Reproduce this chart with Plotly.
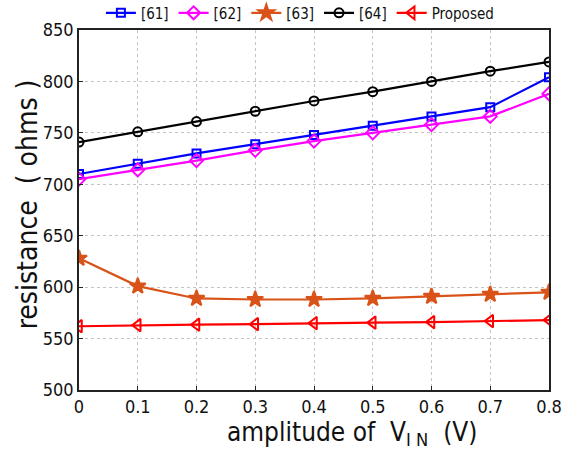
import plotly.graph_objects as go

amplitude = [0, 0.1, 0.2, 0.3, 0.4, 0.5, 0.6, 0.7, 0.8]
x_tick_labels = ["0", "0.1", "0.2", "0.3", "0.4", "0.5", "0.6", "0.7", "0.8"]
r61 = [710, 720, 730, 739, 748, 757, 766, 775, 804]
r62 = [705, 714, 723, 733, 742, 750, 758, 766, 788]
r63 = [628, 601, 589, 588, 588, 589, 591, 593, 595]
r64 = [741, 751, 761, 771, 781, 790, 800, 810, 819]
proposed = [562, 563, 563.5, 564, 565, 565.5, 566, 567, 568]

FONT = "DejaVu Sans Condensed, DejaVu Sans"

series = [
    ("[61]", r61, "#0000FF", "square-open", 8),
    ("[62]", r62, "#FF00FF", "diamond-open", 10),
    ("[63]", r63, "#D95319", "star", 12),
    ("[64]", r64, "#000000", "circle-open", 9),
    ("Proposed", proposed, "#FF0000", "triangle-left-open", 11),
]

fig = go.Figure()
for name, vals, color, symbol, size in series:
    fig.add_trace(go.Scatter(
        x=amplitude, y=vals, name=name, mode="lines+markers",
        line=dict(color=color, width=2.2),
        marker=dict(symbol=symbol, size=size, color=color,
                    line=dict(color=color, width=2)),
    ))

axis_common = dict(
    showline=True, linecolor="#222", linewidth=1.5, mirror=True,
    ticks="inside", ticklen=4, tickcolor="#222",
    showgrid=True, gridcolor="#c4c4c4", griddash="dot", gridwidth=1,
    zeroline=False, automargin=False,
    tickfont=dict(family=FONT, size=18, color="#111"),
)

fig.update_layout(
    width=562, height=450,
    margin=dict(l=79, r=13, t=30, b=60, autoexpand=False),
    plot_bgcolor="white", paper_bgcolor="white",
    font=dict(family=FONT, color="#111"),
    xaxis=dict(range=[0, 0.8], tickvals=amplitude, ticktext=x_tick_labels,
               tickangle=0, **axis_common),
    yaxis=dict(range=[500, 850], dtick=50, **axis_common),
    legend=dict(orientation="h", x=0.47, xanchor="center", y=1.047,
                yanchor="middle", font=dict(size=15),
                itemwidth=30, tracegroupgap=0, bgcolor="rgba(0,0,0,0)"),
)

# Axis titles as annotations so they can sit exactly where wanted
fig.add_annotation(
    text="amplitude of  V<sub>I N</sub>  (V)", xref="paper", yref="paper",
    x=0.581, y=-0.12, xanchor="center", yanchor="middle",
    showarrow=False, font=dict(family=FONT, size=26, color="#111"),
)
fig.add_annotation(
    text="resistance  ( ohms )", xref="paper", yref="paper",
    x=-0.109, y=0.515, xanchor="center", yanchor="middle", textangle=-90,
    showarrow=False, font=dict(family=FONT, size=28, color="#111"),
)

fig.write_html("out.html")
